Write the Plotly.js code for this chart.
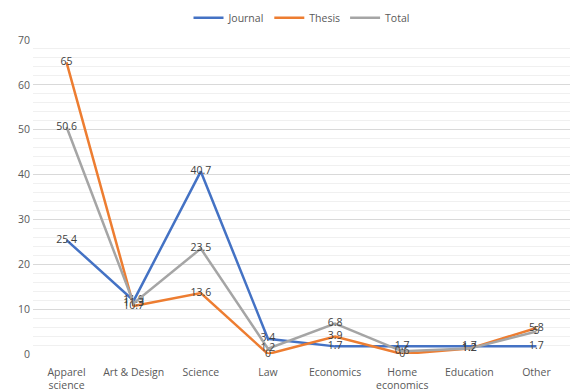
<!DOCTYPE html>
<html>
<head>
<meta charset="utf-8">
<script src="https://cdn.plot.ly/plotly-3.0.1.min.js"></script>
<style>html,body{margin:0;padding:0;background:#fff;}#chart{width:570px;height:392px;}</style>
</head>
<body>
<div id="chart"></div>
<script>
const categories = ["Apparel<br>science", "Art & Design", "Science", "Law", "Economics", "Home<br>economics", "Education", "Other"];
const journal = [25.4, 11.9, 40.7, 3.4, 1.7, 1.7, 1.7, 1.7];
const thesis = [65, 10.7, 13.6, 0, 3.9, 0, 1.2, 5.8];
const total = [50.6, 11.3, 23.5, 1.2, 6.8, 0.6, 1.2, 5];
const yTicks = [0, 10, 20, 30, 40, 50, 60, 70];

function series(name, values, color) {
  return {
    type: 'scatter', mode: 'lines+text', name: name,
    x: categories, y: values,
    text: values.map(v => String(v)),
    textposition: 'middle center',
    textfont: {family: 'Open Sans, sans-serif', size: 10.5, color: '#404040'},
    line: {color: color, width: 2.5},
    cliponaxis: false
  };
}

const data = [
  series('Journal', journal, '#4472C4'),
  series('Thesis', thesis, '#ED7D31'),
  series('Total', total, '#A5A5A5')
];

const layout = {
  width: 570, height: 392,
  margin: {l: 33, r: 0, t: 40, b: 38},
  paper_bgcolor: '#fff', plot_bgcolor: '#fff',
  font: {family: 'Open Sans, sans-serif', size: 10.5, color: '#595959'},
  showlegend: true,
  legend: {orientation: 'h', x: 0.5, xanchor: 'center', y: 1.025, yanchor: 'bottom',
           font: {size: 10.5, color: '#595959'}, itemwidth: 30, tracegroupgap: 0},
  xaxis: {type: 'category', range: [-0.5, 7.5], showgrid: false, zeroline: false,
          showline: false, ticks: '', tickfont: {size: 10.5, color: '#595959'},
          ticklabelstandoff: 10, automargin: false, fixedrange: true},
  yaxis: {range: [0, 70], tickvals: yTicks, ticktext: yTicks.map(String),
          showgrid: true, gridcolor: '#d9d9d9', gridwidth: 1, zeroline: false,
          showline: false, ticks: '', tickfont: {size: 10.5, color: '#595959'},
          ticklabelstandoff: 2, automargin: false,
          minor: {dtick: 2, showgrid: true, gridcolor: '#f0f0f0', gridwidth: 1},
          fixedrange: true}
};

Plotly.newPlot('chart', data, layout, {displayModeBar: false, staticPlot: true});
</script>
</body>
</html>
